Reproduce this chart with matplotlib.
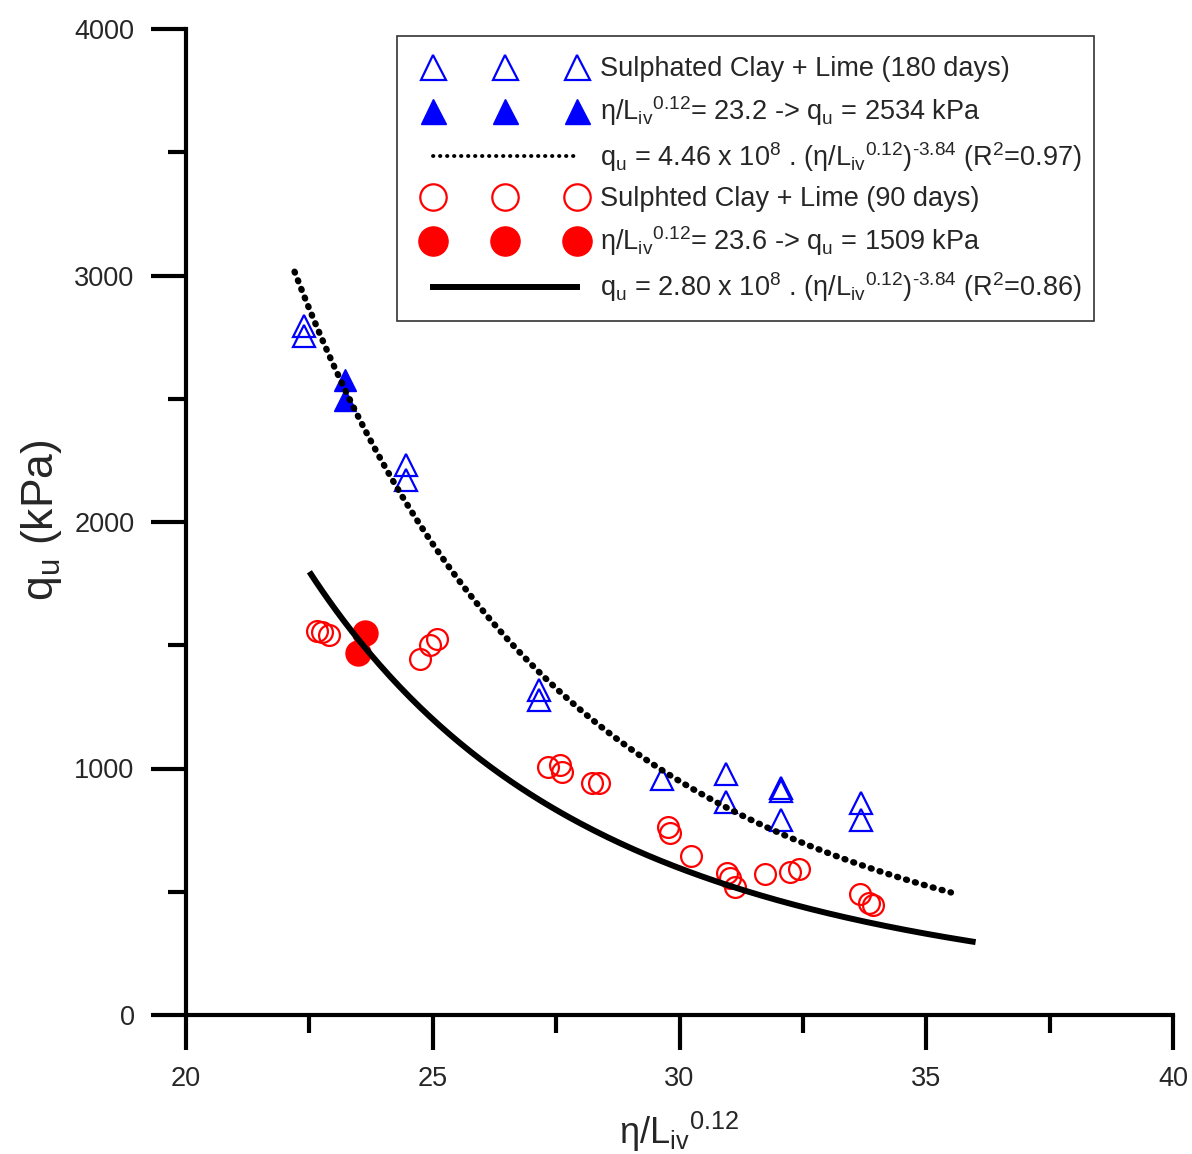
import numpy as np
import matplotlib
matplotlib.use("Agg")
import matplotlib.pyplot as plt
from matplotlib.lines import Line2D
from matplotlib.patches import Rectangle

plt.rcParams['font.family'] = ['Liberation Sans', 'DejaVu Sans']
plt.rcParams['mathtext.fontset'] = 'custom'
plt.rcParams['mathtext.rm'] = 'Liberation Sans'
plt.rcParams['mathtext.it'] = 'Liberation Sans:italic'
plt.rcParams['mathtext.default'] = 'regular'

# 180 days - open triangles
x_180 = [22.39, 22.39, 24.46, 24.46, 27.15, 27.15, 29.64, 30.94, 30.94,
         32.05, 32.05, 32.05, 33.67, 33.67]
q_180 = [2795, 2755, 2231, 2170, 1318, 1278, 956, 976, 863,
         920, 908, 791, 859, 791]
# 180 days - highlighted points
x_180_sel = [23.22, 23.22]
q_180_sel = [2575, 2493]

# 90 days - open circles
x_90 = [22.65, 22.76, 22.90, 24.74, 24.94, 25.08, 27.34, 27.58, 27.61,
        28.22, 28.36, 29.77, 29.81, 30.23, 30.96, 31.02, 31.12, 31.73,
        32.24, 32.43, 33.66, 33.83, 33.93]
q_90 = [1559, 1552, 1542, 1443, 1501, 1524, 1007, 1014, 987,
        940, 940, 761, 740, 646, 575, 555, 520, 571,
        581, 591, 491, 456, 445]
# 90 days - highlighted points
x_90_sel = [23.63, 23.49]
q_90_sel = [1550, 1468]

# power-law fits  q_u = A * (eta/Liv^0.12)^B
A_180, B_180, range_180 = 4.46e8, -3.84, (22.2, 35.5)
A_90, B_90, range_90 = 2.80e8, -3.84, (22.5, 36.0)

blue = '#0000ff'
red = '#ff0000'
txt = '#262626'

fig = plt.figure(figsize=(11.92, 11.54), dpi=100)
ax = fig.add_axes([186 / 1192, 139 / 1154, 987 / 1192, 986 / 1154])

xf = np.linspace(*range_180, 200)
ax.plot(xf, A_180 * xf ** B_180, color='black', lw=4.6,
        linestyle=(0, (0.15, 1.3)), dash_capstyle='round', zorder=3)
xs = np.linspace(*range_90, 200)
ax.plot(xs, A_90 * xs ** B_90, color='black', lw=4.3, solid_capstyle='butt', zorder=3)

ax.plot(x_180, q_180, linestyle='none', marker='^', ms=15.5, mfc='none',
        mec=blue, mew=1.6, zorder=2)
ax.plot(x_180_sel, q_180_sel, linestyle='none', marker='^', ms=15.5, mfc=blue,
        mec=blue, mew=1.0, zorder=2)
ax.plot(x_90, q_90, linestyle='none', marker='o', ms=15, mfc='none',
        mec=red, mew=1.6, zorder=2)
ax.plot(x_90_sel, q_90_sel, linestyle='none', marker='o', ms=18, mfc=red,
        mec=red, mew=1.0, zorder=2)

ax.set_xlim(20, 40)
ax.set_ylim(0, 4000)
ax.set_xticks([20, 25, 30, 35, 40])
ax.set_xticks([22.5, 27.5, 32.5, 37.5], minor=True)
ax.set_yticks([0, 1000, 2000, 3000, 4000])
ax.set_yticks([500, 1500, 2500, 3500], minor=True)

for s in ['top', 'right']:
    ax.spines[s].set_visible(False)
for s in ['left', 'bottom']:
    ax.spines[s].set_linewidth(3)

ax.tick_params(which='major', length=25, width=3, direction='out', pad=12,
               labelsize=19.5, labelcolor=txt)
ax.tick_params(which='minor', length=13, width=3, direction='out')

ax.set_xlabel(r'η/L$_{iv}{}^{0.12}$', fontsize=26, color=txt)
ax.xaxis.set_label_coords(0.5, -0.096)
ax.set_ylabel(r'q$_u$ (kPa)', fontsize=32, color=txt)
ax.yaxis.set_label_coords(-0.124, 0.502)

# legend: box drawn separately, entries placed inside it
fig.patches.append(Rectangle((397 / 1192, 1 - 321 / 1154), 697 / 1192, 285 / 1154,
                             transform=fig.transFigure, fill=False,
                             edgecolor='#333333', lw=1.2))

handles = [
    Line2D([], [], linestyle='none', marker='^', ms=18, mfc='none', mec=blue, mew=1.6),
    Line2D([], [], linestyle='none', marker='^', ms=18, mfc=blue, mec=blue),
    Line2D([], [], color='black', lw=2.8, linestyle=(0, (0.1, 1.7)), dash_capstyle='round'),
    Line2D([], [], linestyle='none', marker='o', ms=19, mfc='none', mec=red, mew=1.6),
    Line2D([], [], linestyle='none', marker='o', ms=21, mfc=red, mec=red),
    Line2D([], [], color='black', lw=4.3),
]
labels = [
    'Sulphated Clay + Lime (180 days)',
    r'η/L$_{iv}{}^{0.12}$= 23.2 -> q$_u$ = 2534 kPa',
    r'q$_u$ = 4.46 x 10$^8$ . (η/L$_{iv}{}^{0.12}$)$^{‐3.84}$ (R$^2$=0.97)',
    'Sulphted Clay + Lime (90 days)',
    r'η/L$_{iv}{}^{0.12}$= 23.6 -> q$_u$ = 1509 kPa',
    r'q$_u$ = 2.80 x 10$^8$ . (η/L$_{iv}{}^{0.12}$)$^{‐3.84}$ (R$^2$=0.86)',
]
leg = fig.legend(handles, labels, loc='upper left',
                 bbox_to_anchor=(425 / 1192, 1 - 56 / 1154),
                 borderaxespad=0, borderpad=0, numpoints=3, frameon=False,
                 fontsize=19.5, handlelength=5.9, handletextpad=0.55,
                 labelspacing=0.45)
for t in leg.get_texts():
    t.set_color(txt)

fig.savefig('out.png', dpi=100)
